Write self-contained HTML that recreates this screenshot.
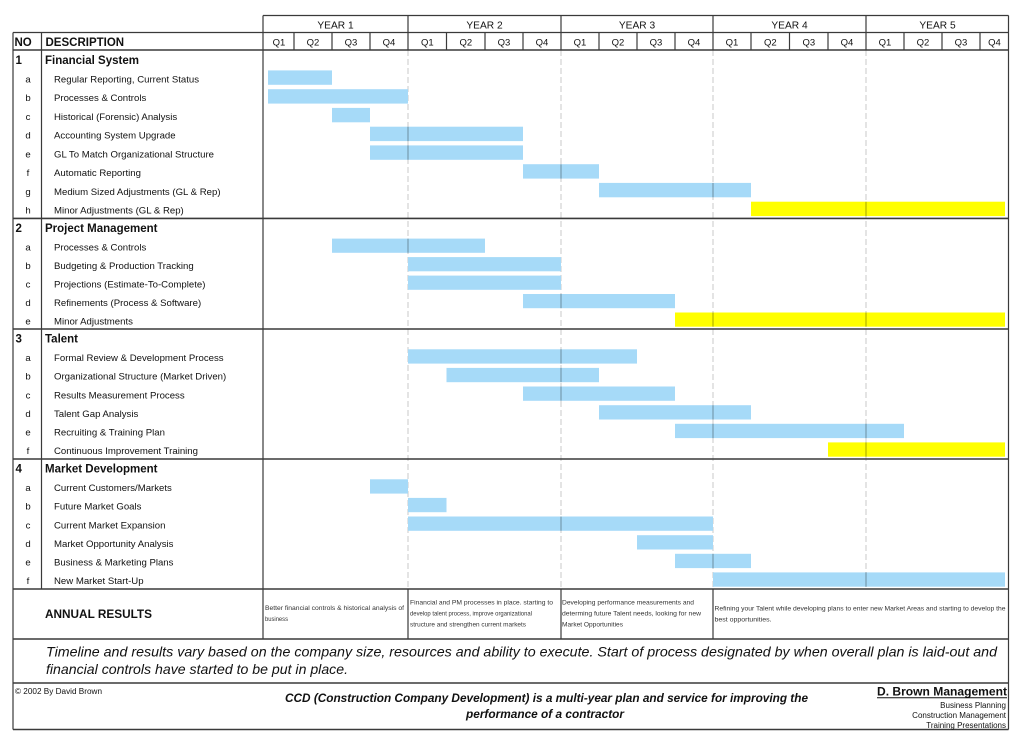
<!DOCTYPE html>
<html>
<head>
<meta charset="utf-8">
<style>
html,body{margin:0;padding:0;background:#fff;}
svg{display:block;}
text{font-family:"Liberation Sans",Arial,sans-serif;fill:#111;}
.b{font-weight:bold;}
.it{font-size:9.6px;}
.sec{font-size:11.5px;font-weight:bold;}
.let{font-size:9.6px;text-anchor:middle;}
.yr{font-size:10.2px;text-anchor:middle;}
.q{font-size:9.5px;text-anchor:middle;}
.ar{font-size:6.8px;fill:#333;}
.ln{stroke:#3a3a3a;stroke-width:1.2;fill:none;}
.lt{stroke:#3a3a3a;stroke-width:1.6;fill:none;}
.bl{fill:#a6daf8;}
.ye{fill:#ffff00;}
.dl{stroke:#c8c8c8;stroke-width:1;stroke-dasharray:6 3;}
.il{stroke:rgba(0,0,0,0.35);stroke-width:1;}
</style>
</head>
<body>
<svg width="1024" height="740" viewBox="0 0 1024 740" xmlns="http://www.w3.org/2000/svg">
<rect x="0" y="0" width="1024" height="740" fill="#fff"/>

<!-- dashed year lines in body -->
<line class="dl" x1="408" y1="50" x2="408" y2="589"/>
<line class="dl" x1="561" y1="50" x2="561" y2="589"/>
<line class="dl" x1="713" y1="50" x2="713" y2="589"/>
<line class="dl" x1="866" y1="50" x2="866" y2="589"/>

<!-- Financial bars -->
<rect class="bl" x="268" y="70.4" width="64" height="14.4"/>
<rect class="bl" x="268" y="89.2" width="140" height="14.4"/>
<rect class="bl" x="332" y="107.9" width="38" height="14.4"/>
<rect class="bl" x="370" y="126.7" width="153" height="14.4"/>
<rect class="bl" x="370" y="145.4" width="153" height="14.4"/>
<rect class="bl" x="523" y="164.2" width="76" height="14.4"/>
<rect class="bl" x="599" y="182.9" width="152" height="14.4"/>
<rect class="ye" x="751" y="201.7" width="254" height="14.4"/>
<!-- PM bars -->
<rect class="bl" x="332" y="238.6" width="153" height="14.2"/>
<rect class="bl" x="408" y="257.1" width="153" height="14.2"/>
<rect class="bl" x="408" y="275.6" width="153" height="14.2"/>
<rect class="bl" x="523" y="294.0" width="152" height="14.2"/>
<rect class="ye" x="675" y="312.5" width="330" height="14.2"/>
<!-- Talent bars -->
<rect class="bl" x="408" y="349.3" width="229" height="14.3"/>
<rect class="bl" x="446.5" y="367.9" width="152.5" height="14.3"/>
<rect class="bl" x="523" y="386.5" width="152" height="14.3"/>
<rect class="bl" x="599" y="405.2" width="152" height="14.3"/>
<rect class="bl" x="675" y="423.8" width="229" height="14.3"/>
<rect class="ye" x="828" y="442.4" width="177" height="14.3"/>
<!-- Market bars -->
<rect class="bl" x="370" y="479.3" width="38" height="14.3"/>
<rect class="bl" x="408" y="497.9" width="38.5" height="14.3"/>
<rect class="bl" x="408" y="516.5" width="305" height="14.3"/>
<rect class="bl" x="637" y="535.2" width="76" height="14.3"/>
<rect class="bl" x="675" y="553.8" width="76" height="14.3"/>
<rect class="bl" x="713" y="572.4" width="292" height="14.3"/>

<!-- year lines inside bars -->
<line class="il" x1="408" y1="126.7" x2="408" y2="141.1"/>
<line class="il" x1="408" y1="145.4" x2="408" y2="159.8"/>
<line class="il" x1="561" y1="164.2" x2="561" y2="178.6"/>
<line class="il" x1="713" y1="182.9" x2="713" y2="197.3"/>
<line class="il" x1="866" y1="201.7" x2="866" y2="216.1"/>
<line class="il" x1="408" y1="238.6" x2="408" y2="252.8"/>
<line class="il" x1="561" y1="294.0" x2="561" y2="308.2"/>
<line class="il" x1="713" y1="312.5" x2="713" y2="326.7"/>
<line class="il" x1="866" y1="312.5" x2="866" y2="326.7"/>
<line class="il" x1="561" y1="349.3" x2="561" y2="363.6"/>
<line class="il" x1="561" y1="367.9" x2="561" y2="382.2"/>
<line class="il" x1="561" y1="386.5" x2="561" y2="400.8"/>
<line class="il" x1="713" y1="405.2" x2="713" y2="419.5"/>
<line class="il" x1="713" y1="423.8" x2="713" y2="438.1"/>
<line class="il" x1="866" y1="423.8" x2="866" y2="438.1"/>
<line class="il" x1="866" y1="442.4" x2="866" y2="456.7"/>
<line class="il" x1="561" y1="516.5" x2="561" y2="530.8"/>
<line class="il" x1="713" y1="553.8" x2="713" y2="568.1"/>
<line class="il" x1="866" y1="572.4" x2="866" y2="586.7"/>

<!-- Header grid -->
<line class="ln" x1="263" y1="15.5" x2="1008.5" y2="15.5"/>
<line class="ln" x1="13" y1="32.5" x2="1008.5" y2="32.5"/>
<line class="lt" x1="13" y1="50" x2="1008.5" y2="50"/>
<line class="ln" x1="408" y1="15.5" x2="408" y2="50"/>
<line class="ln" x1="561" y1="15.5" x2="561" y2="50"/>
<line class="ln" x1="713" y1="15.5" x2="713" y2="50"/>
<line class="ln" x1="866" y1="15.5" x2="866" y2="50"/>
<g class="ln">
<line x1="294" y1="32.5" x2="294" y2="50"/>
<line x1="332" y1="32.5" x2="332" y2="50"/>
<line x1="370" y1="32.5" x2="370" y2="50"/>
<line x1="446.5" y1="32.5" x2="446.5" y2="50"/>
<line x1="485" y1="32.5" x2="485" y2="50"/>
<line x1="523" y1="32.5" x2="523" y2="50"/>
<line x1="599" y1="32.5" x2="599" y2="50"/>
<line x1="637" y1="32.5" x2="637" y2="50"/>
<line x1="675" y1="32.5" x2="675" y2="50"/>
<line x1="751" y1="32.5" x2="751" y2="50"/>
<line x1="789.5" y1="32.5" x2="789.5" y2="50"/>
<line x1="828" y1="32.5" x2="828" y2="50"/>
<line x1="904" y1="32.5" x2="904" y2="50"/>
<line x1="942" y1="32.5" x2="942" y2="50"/>
<line x1="980" y1="32.5" x2="980" y2="50"/>
</g>

<!-- Borders -->
<line class="ln" x1="13" y1="32.5" x2="13" y2="729.5"/>
<line class="ln" x1="1008.5" y1="15.5" x2="1008.5" y2="729.5"/>
<line class="ln" x1="41.5" y1="32.5" x2="41.5" y2="589"/>
<line class="ln" x1="263" y1="15.5" x2="263" y2="639"/>

<!-- Section lines -->
<line class="lt" x1="13" y1="218.4" x2="1008.5" y2="218.4"/>
<line class="lt" x1="13" y1="329" x2="1008.5" y2="329"/>
<line class="lt" x1="13" y1="459" x2="1008.5" y2="459"/>
<line class="lt" x1="13" y1="589" x2="1008.5" y2="589"/>
<line class="lt" x1="13" y1="639" x2="1008.5" y2="639"/>
<line class="lt" x1="13" y1="683" x2="1008.5" y2="683"/>
<line class="lt" x1="13" y1="729.5" x2="1008.5" y2="729.5"/>
<!-- Annual verticals -->
<line class="ln" x1="408" y1="589" x2="408" y2="639"/>
<line class="ln" x1="561" y1="589" x2="561" y2="639"/>
<line class="ln" x1="713" y1="589" x2="713" y2="639"/>

<!-- Header text -->
<text class="yr" x="335.5" y="28.5">YEAR 1</text>
<text class="yr" x="484.5" y="28.5">YEAR 2</text>
<text class="yr" x="637" y="28.5">YEAR 3</text>
<text class="yr" x="789.5" y="28.5">YEAR 4</text>
<text class="yr" x="937.5" y="28.5">YEAR 5</text>
<text class="q" x="279" y="45.5">Q1</text>
<text class="q" x="313" y="45.5">Q2</text>
<text class="q" x="351" y="45.5">Q3</text>
<text class="q" x="389" y="45.5">Q4</text>
<text class="q" x="427.3" y="45.5">Q1</text>
<text class="q" x="465.8" y="45.5">Q2</text>
<text class="q" x="504" y="45.5">Q3</text>
<text class="q" x="542" y="45.5">Q4</text>
<text class="q" x="580" y="45.5">Q1</text>
<text class="q" x="618" y="45.5">Q2</text>
<text class="q" x="656" y="45.5">Q3</text>
<text class="q" x="694" y="45.5">Q4</text>
<text class="q" x="732" y="45.5">Q1</text>
<text class="q" x="770.3" y="45.5">Q2</text>
<text class="q" x="808.8" y="45.5">Q3</text>
<text class="q" x="847" y="45.5">Q4</text>
<text class="q" x="885" y="45.5">Q1</text>
<text class="q" x="923" y="45.5">Q2</text>
<text class="q" x="961" y="45.5">Q3</text>
<text class="q" x="994.5" y="45.5">Q4</text>
<text class="sec" x="14.5" y="46">NO</text>
<text class="sec" x="45.5" y="46">DESCRIPTION</text>

<!-- Section 1 -->
<text class="sec" x="15.5" y="64">1</text>
<text class="sec" x="45" y="64">Financial System</text>
<text class="let" x="28" y="82.3">a</text><text class="it" x="54" y="82.3">Regular Reporting, Current Status</text>
<text class="let" x="28" y="101">b</text><text class="it" x="54" y="101">Processes &amp; Controls</text>
<text class="let" x="28" y="119.8">c</text><text class="it" x="54" y="119.8">Historical (Forensic) Analysis</text>
<text class="let" x="28" y="138.5">d</text><text class="it" x="54" y="138.5">Accounting System Upgrade</text>
<text class="let" x="28" y="157.3">e</text><text class="it" x="54" y="157.3">GL To Match Organizational Structure</text>
<text class="let" x="28" y="176">f</text><text class="it" x="54" y="176">Automatic Reporting</text>
<text class="let" x="28" y="194.8">g</text><text class="it" x="54" y="194.8">Medium Sized Adjustments (GL &amp; Rep)</text>
<text class="let" x="28" y="213.5">h</text><text class="it" x="54" y="213.5">Minor Adjustments (GL &amp; Rep)</text>

<!-- Section 2 -->
<text class="sec" x="15.5" y="232">2</text>
<text class="sec" x="45" y="232">Project Management</text>
<text class="let" x="28" y="250.3">a</text><text class="it" x="54" y="250.3">Processes &amp; Controls</text>
<text class="let" x="28" y="268.8">b</text><text class="it" x="54" y="268.8">Budgeting &amp; Production Tracking</text>
<text class="let" x="28" y="287.3">c</text><text class="it" x="54" y="287.3">Projections (Estimate-To-Complete)</text>
<text class="let" x="28" y="305.8">d</text><text class="it" x="54" y="305.8">Refinements (Process &amp; Software)</text>
<text class="let" x="28" y="324.3">e</text><text class="it" x="54" y="324.3">Minor Adjustments</text>

<!-- Section 3 -->
<text class="sec" x="15.5" y="342.5">3</text>
<text class="sec" x="45" y="342.5">Talent</text>
<text class="let" x="28" y="361.1">a</text><text class="it" x="54" y="361.1">Formal Review &amp; Development Process</text>
<text class="let" x="28" y="379.7">b</text><text class="it" x="54" y="379.7">Organizational Structure (Market Driven)</text>
<text class="let" x="28" y="398.4">c</text><text class="it" x="54" y="398.4">Results Measurement Process</text>
<text class="let" x="28" y="417">d</text><text class="it" x="54" y="417">Talent Gap Analysis</text>
<text class="let" x="28" y="435.6">e</text><text class="it" x="54" y="435.6">Recruiting &amp; Training Plan</text>
<text class="let" x="28" y="454.2">f</text><text class="it" x="54" y="454.2">Continuous Improvement Training</text>

<!-- Section 4 -->
<text class="sec" x="15.5" y="472.5">4</text>
<text class="sec" x="45" y="472.5">Market Development</text>
<text class="let" x="28" y="491.1">a</text><text class="it" x="54" y="491.1">Current Customers/Markets</text>
<text class="let" x="28" y="509.7">b</text><text class="it" x="54" y="509.7">Future Market Goals</text>
<text class="let" x="28" y="528.4">c</text><text class="it" x="54" y="528.4">Current Market Expansion</text>
<text class="let" x="28" y="547">d</text><text class="it" x="54" y="547">Market Opportunity Analysis</text>
<text class="let" x="28" y="565.6">e</text><text class="it" x="54" y="565.6">Business &amp; Marketing Plans</text>
<text class="let" x="28" y="584.2">f</text><text class="it" x="54" y="584.2">New Market Start-Up</text>

<!-- Annual results -->
<text class="sec" x="45" y="618" textLength="107" lengthAdjust="spacingAndGlyphs">ANNUAL RESULTS</text>
<text class="ar" x="265" y="610" textLength="139" lengthAdjust="spacingAndGlyphs">Better financial controls &amp; historical analysis of</text>
<text class="ar" x="265" y="621" textLength="23" lengthAdjust="spacingAndGlyphs">business</text>
<text class="ar" x="410" y="604.5" textLength="143" lengthAdjust="spacingAndGlyphs">Financial and PM processes in place. starting to</text>
<text class="ar" x="410" y="615.5" textLength="122" lengthAdjust="spacingAndGlyphs">develop talent process, improve organizational</text>
<text class="ar" x="410" y="626.5" textLength="116" lengthAdjust="spacingAndGlyphs">structure and strengthen current markets</text>
<text class="ar" x="562" y="604.5" textLength="132" lengthAdjust="spacingAndGlyphs">Developing performance measurements and</text>
<text class="ar" x="562" y="615.5" textLength="139" lengthAdjust="spacingAndGlyphs">determing future Talent needs, looking for new</text>
<text class="ar" x="562" y="626.5" textLength="61" lengthAdjust="spacingAndGlyphs">Market Opportunities</text>
<text class="ar" x="714.5" y="610.5" textLength="291" lengthAdjust="spacingAndGlyphs">Refining your Talent while developing plans to enter new Market Areas and starting to develop the</text>
<text class="ar" x="714.5" y="621.5" textLength="57" lengthAdjust="spacingAndGlyphs">best opportunities.</text>

<!-- Timeline note -->
<text x="46" y="656.5" font-size="14" font-style="italic" textLength="951" lengthAdjust="spacingAndGlyphs">Timeline and results vary based on the company size, resources and ability to execute.  Start of process designated by when overall plan is laid-out and</text>
<text x="46" y="674" font-size="14" font-style="italic" textLength="302" lengthAdjust="spacingAndGlyphs">financial controls have started to be put in place.</text>

<!-- Footer -->
<text x="15" y="694" font-size="8" textLength="87" lengthAdjust="spacingAndGlyphs">© 2002 By David Brown</text>
<text x="285" y="702" font-size="11.5" font-weight="bold" font-style="italic" textLength="523" lengthAdjust="spacingAndGlyphs">CCD (Construction Company Development) is a multi-year plan and service for improving the</text>
<text x="466" y="718" font-size="11.5" font-weight="bold" font-style="italic" textLength="158" lengthAdjust="spacingAndGlyphs">performance of a contractor</text>
<text x="877" y="695.5" font-size="12" font-weight="bold" textLength="130" lengthAdjust="spacingAndGlyphs">D. Brown Management</text>
<line x1="877" y1="697.8" x2="1007" y2="697.8" stroke="#111" stroke-width="1"/>
<text x="1006" y="708" font-size="8" text-anchor="end">Business Planning</text>
<text x="1006" y="718" font-size="8" text-anchor="end">Construction Management</text>
<text x="1006" y="728" font-size="8" text-anchor="end">Training Presentations</text>
</svg>
</body>
</html>
